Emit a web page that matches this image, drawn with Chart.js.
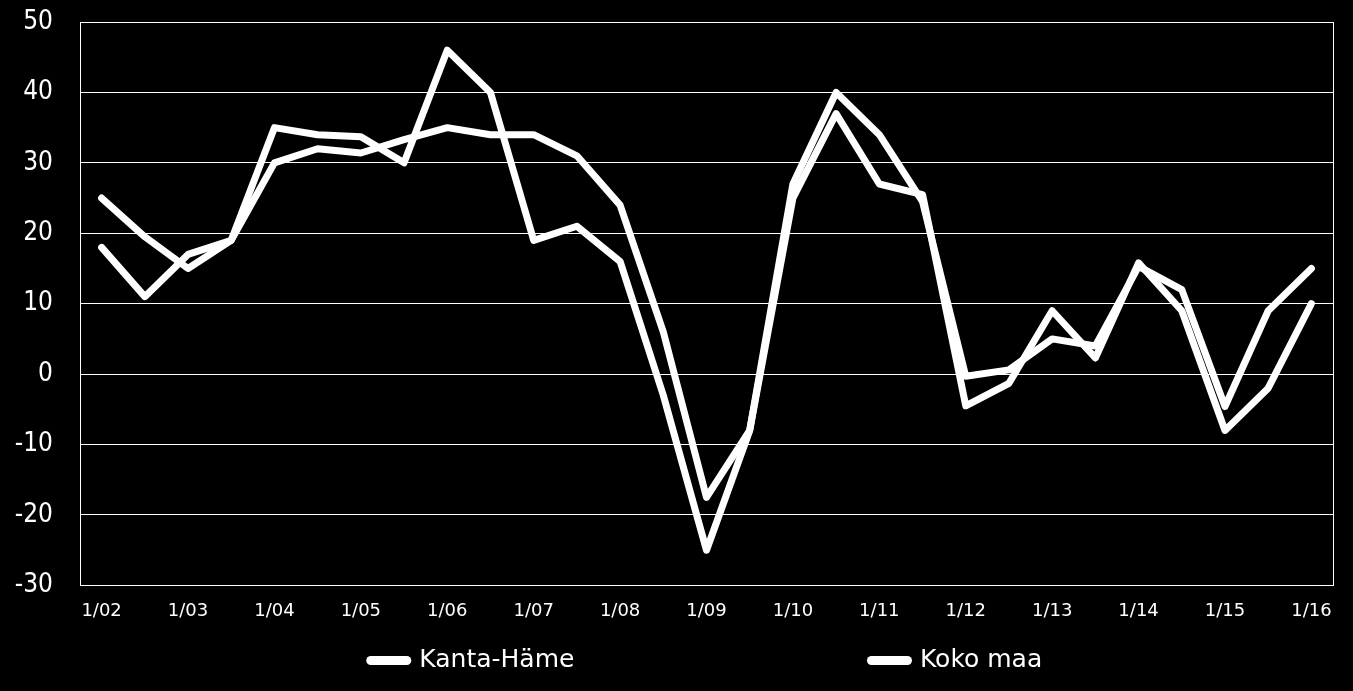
<!DOCTYPE html>
<html>
<head>
<meta charset="utf-8">
<script src="https://cdn.jsdelivr.net/npm/chart.js@4.4.1/dist/chart.umd.min.js"></script>
<style>
  html, body { margin: 0; padding: 0; background: #000000; }
  #wrap { width: 1353px; height: 691px; }
</style>
</head>
<body>
<div id="wrap"><canvas id="c" width="1353" height="691"></canvas></div>
<script>
const categories = ['1/02','7/02','1/03','7/03','1/04','7/04','1/05','7/05','1/06','7/06',
                    '1/07','7/07','1/08','7/08','1/09','7/09','1/10','7/10','1/11','7/11',
                    '1/12','7/12','1/13','7/13','1/14','7/14','1/15','7/15','1/16'];
const kantaHame = [18, 11, 17, 19, 35, 34, 33.7, 30, 46, 40,
                   19, 21, 16, -3, -25, -8, 25, 37, 27, 25.5,
                   -4.5, -1.3, 9, 2.3, 15.8, 9, -8, -2, 10];
const kokoMaa   = [25, 19.5, 15, 19, 30, 32, 31.4, 33.3, 35, 34,
                   34, 31, 24, 6, -17.5, -8, 27, 40, 34, 24.5,
                   -0.3, 0.6, 5, 4, 15.3, 12, -4.6, 9, 15];
const seriesNames = ['Kanta-Häme', 'Koko maa'];
const yMin = -30, yMax = 50, yStep = 10;

const lineStyle = {
  borderColor: '#ffffff',
  backgroundColor: '#ffffff',
  borderWidth: 7,
  pointRadius: 0,
  pointHoverRadius: 0,
  tension: 0,
  borderCapStyle: 'round',
  borderJoinStyle: 'round',
  fill: false
};

new Chart(document.getElementById('c'), {
  type: 'line',
  data: {
    labels: categories,
    datasets: [
      Object.assign({ label: seriesNames[0], data: kantaHame }, lineStyle),
      Object.assign({ label: seriesNames[1], data: kokoMaa }, lineStyle)
    ]
  },
  options: {
    responsive: false,
    animation: false,
    devicePixelRatio: 1,
    layout: { padding: { left: 15, right: 20, top: 22, bottom: 8 } },
    plugins: {
      tooltip: { enabled: false },
      legend: {
        position: 'bottom',
        fullSize: false,
        labels: {
          color: '#ffffff',
          font: { family: "'DejaVu Sans', sans-serif", size: 25 },
          usePointStyle: true,
          pointStyle: 'line',
          pointStyleWidth: 36,
          padding: 11,
          generateLabels: function (chart) {
            const items = Chart.defaults.plugins.legend.labels.generateLabels(chart);
            items.forEach(function (it, i) {
              it.lineWidth = 9;
              it.lineCap = 'round';
              it.strokeStyle = '#ffffff';
              it.fillStyle = '#ffffff';
              it.fontColor = '#ffffff';
              if (i === 0) it.text = it.text + ' '.repeat(36);
            });
            return items;
          }
        }
      }
    },
    scales: {
      x: {
        type: 'category',
        offset: true,
        grid: { display: false, drawTicks: false },
        border: { display: true, color: '#ffffff', width: 1 },
        ticks: {
          color: '#ffffff',
          font: { family: "'DejaVu Sans', sans-serif", size: 18 },
          autoSkip: false,
          maxRotation: 0,
          minRotation: 0,
          padding: 15,
          callback: function (value, index) { return index % 2 === 0 ? categories[index] : ''; }
        }
      },
      y: {
        min: yMin,
        max: yMax,
        afterFit: function (scale) { scale.width = 65; },
        grid: { color: '#ffffff', lineWidth: 1, drawTicks: true, tickLength: 27, tickColor: 'rgba(0,0,0,0)' },
        border: { display: true, color: '#ffffff', width: 1 },
        ticks: {
          stepSize: yStep,
          color: '#ffffff',
          font: { family: "'DejaVu Sans Condensed', 'DejaVu Sans', sans-serif", size: 26 },
          padding: 0
        }
      },
      yRight: {
        position: 'right',
        min: yMin,
        max: yMax,
        grid: { drawOnChartArea: false, drawTicks: false },
        border: { display: true, color: '#ffffff', width: 1 },
        ticks: { display: false, padding: 0 }
      }
    }
  }
});
</script>
</body>
</html>
